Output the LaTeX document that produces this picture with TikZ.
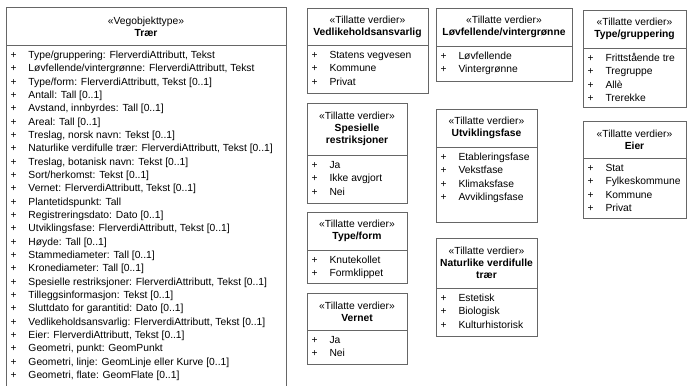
\documentclass[tikz,border=0pt]{standalone}
\usepackage{fontspec}
\setmainfont{Liberation Sans}
\usepackage{tikz}

\begin{document}
\begin{tikzpicture}[x=1pt,y=-1pt]
\tikzset{box/.style = {draw=black!60,line width=0.8pt}}
\tikzset{head/.style = {align=center,inner sep=0pt,font=\fontsize{10.3}{12}\selectfont}}
\tikzset{item/.style = {anchor=base west,inner sep=0pt,font=\fontsize{10.3}{12}\selectfont}}
\useasboundingbox (0,0) rectangle (687,385);
% Traer
\draw[box] (6,7) rectangle (286,392) (6,45) -- (286,45);
\node[head] (trer) at (146,26.5) {«Vegobjekttype»\\\textbf{Trær}};
\foreach \t [count=\i] in {{Type/gruppering: FlerverdiAttributt, Tekst},
  {Løvfellende/vintergrønne: FlerverdiAttributt, Tekst},
  {Type/form: FlerverdiAttributt, Tekst [0..1]},
  {Antall: Tall [0..1]},
  {Avstand, innbyrdes: Tall [0..1]},
  {Areal: Tall [0..1]},
  {Treslag, norsk navn: Tekst [0..1]},
  {Naturlike verdifulle trær: FlerverdiAttributt, Tekst [0..1]},
  {Treslag, botanisk navn: Tekst [0..1]},
  {Sort/herkomst: Tekst [0..1]},
  {Vernet: FlerverdiAttributt, Tekst [0..1]},
  {Plantetidspunkt: Tall},
  {Registreringsdato: Dato [0..1]},
  {Utviklingsfase: FlerverdiAttributt, Tekst [0..1]},
  {Høyde: Tall [0..1]},
  {Stammediameter: Tall [0..1]},
  {Kronediameter: Tall [0..1]},
  {Spesielle restriksjoner: FlerverdiAttributt, Tekst [0..1]},
  {Tilleggsinformasjon: Tekst [0..1]},
  {Sluttdato for garantitid: Dato [0..1]},
  {Vedlikeholdsansvarlig: FlerverdiAttributt, Tekst [0..1]},
  {Eier: FlerverdiAttributt, Tekst [0..1]},
  {Geometri, punkt: GeomPunkt},
  {Geometri, linje: GeomLinje eller Kurve [0..1]},
  {Geometri, flate: GeomFlate [0..1]}}
  \node[item] (trer\i) at (10.5,{45+13.5+(\i-1)*13.33}) {\makebox[17.8pt][l]{+}\t};
% Vedlikeholdsansvarlig
\draw[box] (307,8) rectangle (428,93) (307,45) -- (428,45);
\node[head] (vedl) at (367.5,26.5) {«Tillatte verdier»\\\textbf{Vedlikeholdsansvarlig}};
\foreach \t [count=\i] in {Statens vegvesen,Kommune,Privat}
  \node[item] (vedl\i) at (311.5,{45+13.5+(\i-1)*13.33}) {\makebox[17.8pt][l]{+}\t};
% Lovfellende/vintergronne
\draw[box] (436,8) rectangle (572,81) (436,46) -- (572,46);
\node[head] (lov) at (504,27) {«Tillatte verdier»\\\textbf{Løvfellende/vintergrønne}};
\foreach \t [count=\i] in {Løvfellende,Vintergrønne}
  \node[item] (lov\i) at (440.5,{46+13.5+(\i-1)*13.33}) {\makebox[17.8pt][l]{+}\t};
% Type/gruppering
\draw[box] (583,10) rectangle (686,107) (583,48) -- (686,48);
\node[head] (typgr) at (634.5,29) {«Tillatte verdier»\\\textbf{Type/gruppering}};
\foreach \t [count=\i] in {Frittstående tre,Tregruppe,Allè,Trerekke}
  \node[item] (typgr\i) at (587.5,{48+13.5+(\i-1)*13.33}) {\makebox[17.8pt][l]{+}\t};
% Spesielle restriksjoner
\draw[box] (307,103) rectangle (407,203) (307,155) -- (407,155);
\node[head] (spes) at (357,129) {«Tillatte verdier»\\\textbf{Spesielle}\\\textbf{restriksjoner}};
\foreach \t [count=\i] in {Ja,Ikke avgjort,Nei}
  \node[item] (spes\i) at (311.5,{155+13.5+(\i-1)*13.33}) {\makebox[17.8pt][l]{+}\t};
% Utviklingsfase
\draw[box] (436,109) rectangle (537,222) (436,147) -- (537,147);
\node[head] (utv) at (486.5,128) {«Tillatte verdier»\\\textbf{Utviklingsfase}};
\foreach \t [count=\i] in {Etableringsfase,Vekstfase,Klimaksfase,Avviklingsfase}
  \node[item] (utv\i) at (440.5,{147+13.5+(\i-1)*13.33}) {\makebox[17.8pt][l]{+}\t};
% Eier
\draw[box] (583,121) rectangle (686,218) (583,158) -- (686,158);
\node[head] (eier) at (634.5,139.5) {«Tillatte verdier»\\\textbf{Eier}};
\foreach \t [count=\i] in {Stat,Fylkeskommune,Kommune,Privat}
  \node[item] (eier\i) at (587.5,{158+13.5+(\i-1)*13.33}) {\makebox[17.8pt][l]{+}\t};
% Type/form
\draw[box] (307,212) rectangle (407,283) (307,250) -- (407,250);
\node[head] (typform) at (357,231) {«Tillatte verdier»\\\textbf{Type/form}};
\foreach \t [count=\i] in {Knutekollet,Formklippet}
  \node[item] (typform\i) at (311.5,{250+13.5+(\i-1)*13.33}) {\makebox[17.8pt][l]{+}\t};
% Naturlike verdifulle traer
\draw[box] (436,238) rectangle (537,336) (436,288) -- (537,288);
\node[head] (natur) at (486.5,263) {«Tillatte verdier»\\\textbf{Naturlike verdifulle}\\\textbf{trær}};
\foreach \t [count=\i] in {Estetisk,Biologisk,Kulturhistorisk}
  \node[item] (natur\i) at (440.5,{288+13.5+(\i-1)*13.33}) {\makebox[17.8pt][l]{+}\t};
% Vernet
\draw[box] (307,293) rectangle (407,364) (307,330) -- (407,330);
\node[head] (vernet) at (357,311.5) {«Tillatte verdier»\\\textbf{Vernet}};
\foreach \t [count=\i] in {Ja,Nei}
  \node[item] (vernet\i) at (311.5,{330+13.5+(\i-1)*13.33}) {\makebox[17.8pt][l]{+}\t};
\end{tikzpicture}
\end{document}
